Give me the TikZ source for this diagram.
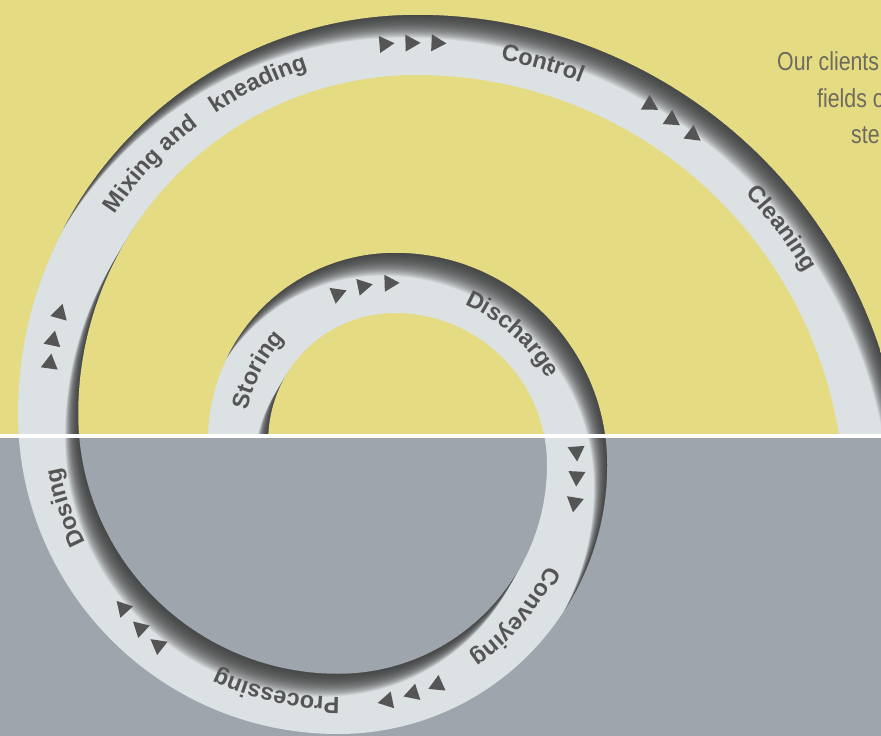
\documentclass[tikz,border=0pt]{standalone}
\usepackage{fontspec}
\setmainfont{Liberation Sans}
\newfontfamily\condfont[FakeStretch=0.82]{Liberation Sans}
\usetikzlibrary{calc,decorations.text}
\definecolor{bgyellow}{HTML}{E5DB82}
\definecolor{bggray}{HTML}{9EA5AC}
\definecolor{ringc}{HTML}{DCE1E4}
\definecolor{labc}{HTML}{555555}
\definecolor{shadc}{HTML}{3A3A3A}
\definecolor{parac}{HTML}{6C6B5E}
\newcommand\labfont{\fontsize{23.5}{23.5}\selectfont\bfseries\color{labc}}
% ring region: outer edge forward, inner edge back (screen y -> -y)
\newcommand\ringregion{($(395,-440)+(185:187)$)
  arc[start angle=185,end angle=90,radius=187]
  arc[start angle=90,end angle=0,radius=212]
  arc[start angle=0,end angle=-90,radius=269]
  arc[start angle=-90,end angle=-180,radius=320]
  arc[start angle=180,end angle=90,radius=399]
  arc[start angle=90,end angle=-2,radius=487.3]
  -- ($(417,-502.3)+(-2:427.3)$)
  arc[start angle=-2,end angle=90,radius=427.3]
  arc[start angle=90,end angle=180,radius=339]
  arc[start angle=-180,end angle=-90,radius=260]
  arc[start angle=-90,end angle=0,radius=209]
  arc[start angle=0,end angle=90,radius=152]
  arc[start angle=90,end angle=185,radius=127] -- cycle}
\newcommand\arclabel[6]{%
  \path[decorate,decoration={text along path,text align=center,text={|\labfont|#6}}]
    ($(#1,-#2)+(#4:#3)$) arc[start angle=#4,end angle=#5,radius=#3];}
\newcommand\arrowtri[3]{%
  \fill[labc,shift={(#1,-#2)},rotate=#3] (9.5,0) -- (-5.5,8.5) -- (-5.5,-8.5) -- cycle;}
\tikzset{paratext/.style={anchor=base west,inner sep=0pt,text=parac,
  font=\condfont\fontsize{26}{26}\selectfont}}
\begin{document}
\begin{tikzpicture}[x=1pt,y=1pt]
\useasboundingbox (0,0) rectangle (881,-736);
% background
\fill[bgyellow] (-2,2) rectangle (883,-436);
\fill[bggray] (-2,-436) rectangle (883,-738);
% ring with inner shadow
\begin{scope}
  \clip \ringregion;
  \fill[ringc] (-10,10) rectangle (900,-750);
  \foreach \d in {1,2,...,26}{
    \fill[shadc,opacity=0.08,even odd rule,shift={(-0.5*\d,-0.87*\d)}]
      (-100,100) rectangle (1000,-900) \ringregion;
  }
\end{scope}
% ring ends cut at the dividing line
\fill[bggray] (195,-437) rectangle (285,-475);
\fill[bggray] (815,-437) rectangle (890,-535);
% white dividing line
\fill[white] (-2,-433.6) rectangle (883,-437.9);
% labels along the spiral
\arclabel{395}{440}{150}{178}{128}{Storing}
\arclabel{395}{465}{175}{73}{23}{Discharge}
\arclabel{338}{465}{232}{-18}{-63}{Conveying}
\arclabel{338}{414}{283}{-88}{-117}{Processing}
\arclabel{338}{414}{283}{-146}{-176}{Dosing}
\arclabel{417}{414}{362}{149}{124.6}{Mixing and}
\arclabel{417}{414}{362}{126}{105.4}{kneading}
\arclabel{417}{502.3}{450.3}{83}{65}{Control}
\arclabel{417}{502.3}{450.3}{47}{26.8}{Cleaning}
% direction triangles
\arrowtri{337.7}{293.8}{21.4}\arrowtri{363.4}{286.2}{11.6}\arrowtri{390.1}{283.1}{1.8}
\arrowtri{385}{44}{4.9}\arrowtri{411}{43}{0.9}\arrowtri{437}{43}{-2.5}
\arrowtri{576.5}{452}{-85.9}\arrowtri{576.7}{477}{-92.9}\arrowtri{574.5}{503}{-99.2}
\arrowtri{437}{685}{-155.7}\arrowtri{412.5}{693.5}{-162}\arrowtri{387}{701}{-168.3}
\arrowtri{158}{645}{142.1}\arrowtri{140}{628}{137.1}\arrowtri{123}{608}{132.1}
\arrowtri{50}{363}{82.1}\arrowtri{53}{340}{78.2}\arrowtri{60}{313}{74.3}
\arrowtri{650}{105}{-30.4}\arrowtri{672}{120}{-33.7}\arrowtri{693}{135}{-36.9}
% paragraph (cut by the right edge)
\node[paratext] (p1) at (777,-70) {Our clients};
\node[paratext] (p2) at (817,-107) {fields o};
\node[paratext] (p3) at (851,-143) {ste};
\end{tikzpicture}
\end{document}
